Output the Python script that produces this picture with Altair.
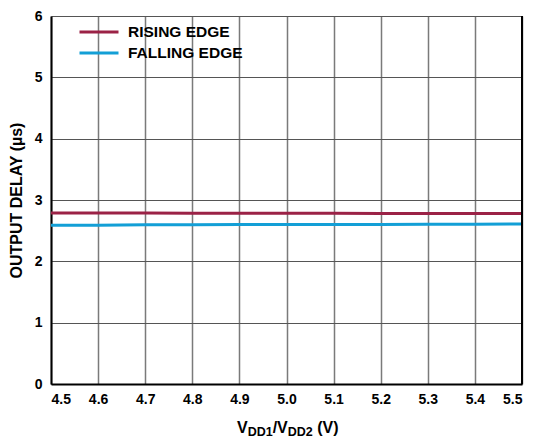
import altair as alt
import pandas as pd

# ---- data ----
voltage = [4.5, 4.6, 4.7, 4.8, 4.9, 5.0, 5.1, 5.2, 5.3, 5.4, 5.5]
rising = [2.79, 2.79, 2.79, 2.785, 2.785, 2.785, 2.785, 2.78, 2.78, 2.78, 2.78]
falling = [2.59, 2.59, 2.595, 2.595, 2.6, 2.6, 2.6, 2.6, 2.605, 2.605, 2.61]
series_names = ["RISING EDGE", "FALLING EDGE"]
series_colors = ["#9B2246", "#139FD6"]
y_ticks = [0, 1, 2, 3, 4, 5, 6]

# x-axis title pieces (text, font size, is_subscript, gap before)
title_parts = [("V", 16, False, 0), ("DD1", 12.5, True, 0), ("/V", 16, False, 0),
               ("DD2", 12.5, True, 0), ("(V)", 16, False, 4.5)]

rows = []
for v, r, f in zip(voltage, rising, falling):
    rows.append({"v": v, "delay": r, "series": series_names[0]})
    rows.append({"v": v, "delay": f, "series": series_names[1]})
df = pd.DataFrame(rows)

FONT = "Liberation Sans"
TOP = 8
W, H = 471, 376 - TOP

x_scale = alt.Scale(domain=[4.5, 5.5], nice=False, zero=False)
y_scale = alt.Scale(domain=[0, 6], nice=False)

lines = alt.Chart(df).mark_line(strokeWidth=3).encode(
    x=alt.X("v:Q", scale=x_scale, title=None,
            axis=alt.Axis(values=voltage, format=".1f", gridColor="#7a7a7a",
                          gridWidth=1.5, labelPadding=8)),
    y=alt.Y("delay:Q", scale=y_scale, title="OUTPUT DELAY (µs)",
            axis=alt.Axis(values=y_ticks, format="d", gridColor="#555555",
                          gridWidth=1, labelPadding=9, titlePadding=10)),
    color=alt.Color("series:N",
                    scale=alt.Scale(domain=series_names, range=series_colors),
                    legend=alt.Legend(title=None, orient="none", legendX=40, legendY=8,
                                      symbolType="M-3,0H3", symbolSize=169,
                                      symbolStrokeWidth=3, labelFont=FONT,
                                      labelFontSize=15.5, labelFontWeight="bold",
                                      labelColor="black", labelOffset=21,
                                      rowPadding=4, padding=0)),
)

border = alt.Chart(pd.DataFrame({"v": [voltage[-1]]})).mark_rule(
    color="black", strokeWidth=2).encode(x=alt.X("v:Q", scale=x_scale))

# x-axis title with subscripts
# approximate advance widths (Arial/Liberation bold metrics)
adv = {"V": 0.667, "D": 0.722, "1": 0.556, "2": 0.556, "/": 0.278, " ": 0.278,
       "(": 0.333, ")": 0.333}
layers = [lines, border]
x0 = 186.0
base_y = 425 - TOP
for txt, size, sub, gap in title_parts:
    x0 += gap
    layers.append(
        alt.Chart(pd.DataFrame({"t": [txt]})).mark_text(
            align="left", baseline="alphabetic", font=FONT, fontWeight="bold",
            fontSize=size, color="black").encode(
            x=alt.value(x0), y=alt.value(base_y + (3 if sub else 0)), text="t:N")
    )
    x0 += sum(adv.get(c, 0.6) for c in txt) * size

chart = alt.layer(*layers).properties(
    width=W, height=H,
    autosize=alt.AutoSizeParams(type="none"),
    padding={"left": 43, "top": TOP, "right": 5, "bottom": 62},
).configure_view(stroke=None).configure_axis(
    labelFont=FONT, labelFontSize=14, labelFontWeight="bold", labelColor="black",
    titleFont=FONT, titleFontSize=16, titleFontWeight="bold", titleColor="black",
    domainColor="black", domainWidth=2, ticks=False,
)

chart.save("out.html", embed_options={"renderer": "svg", "actions": False})
